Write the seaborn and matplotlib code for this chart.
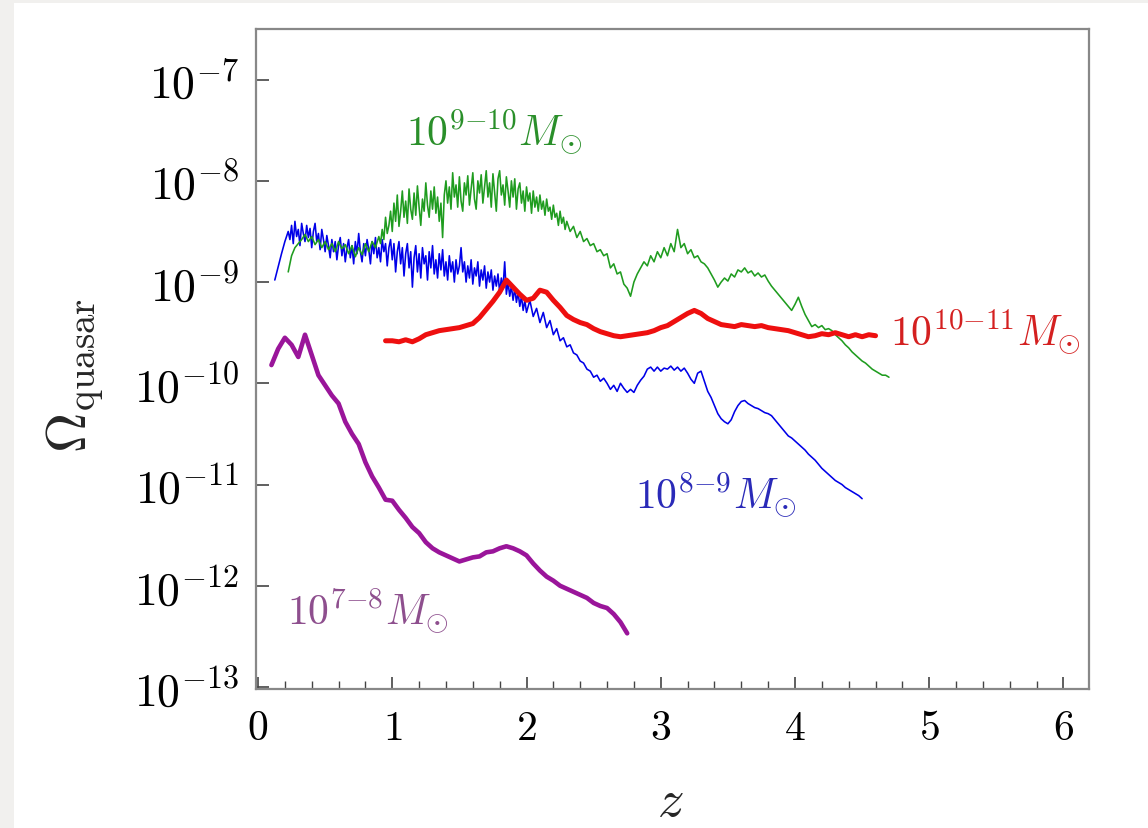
import matplotlib
matplotlib.use('Agg')

import matplotlib.pyplot as plt
import matplotlib.ticker as mticker
from matplotlib.patches import Rectangle
import numpy as np
import seaborn as sns

sns.set_style("white")
plt.rcParams['mathtext.fontset'] = 'cm'
plt.rcParams['font.family'] = ['DejaVu Serif', 'DejaVu Sans']

# log10(Omega_quasar); each piece is (z start, z step, values)
green_a = (0.225, 0.025, [
    -8.90, -8.74, -8.66, -8.62, -8.58, -8.53, -8.60, -8.55, -8.63, -8.58,
    -8.66, -8.60, -8.68, -8.62, -8.70, -8.60, -8.67, -8.63, -8.72, -8.64,
    -8.75, -8.66, -8.73, -8.62, -8.70, -8.60, -8.66,
])
green_b = (0.9, 0.0125, [
    -8.55, -8.62, -8.48, -8.58, -8.36, -8.52, -8.44, -8.30, -8.50, -8.22,
    -8.40, -8.14, -8.45, -8.30, -8.10, -8.36, -8.20, -8.42, -8.08, -8.28,
    -8.38, -8.12, -8.34, -8.05, -8.26, -8.44, -8.18, -8.30, -8.02, -8.24,
    -8.36, -8.10, -8.28, -8.06, -8.32, -8.16, -8.40, -8.22, -8.56, -8.14,
    -8.00, -8.22, -8.06, -8.28, -7.92, -8.16, -8.04, -8.26, -7.96, -8.20,
    -8.30, -8.02, -8.14, -7.95, -8.24, -8.08, -7.92, -8.18, -8.28, -8.00,
    -8.12, -7.94, -8.22, -8.06, -7.90, -8.16, -8.02, -8.26, -7.93, -8.12,
    -8.30, -7.98, -7.90, -8.14, -8.04, -8.24, -7.96, -8.10, -8.26, -8.00,
    -8.16, -7.98, -8.28, -8.08, -8.02, -8.22, -8.10, -8.30, -8.06, -8.20,
    -8.12, -8.32, -8.10, -8.26, -8.16, -8.30, -8.14, -8.28, -8.20, -8.34,
    -8.18, -8.30, -8.26, -8.38, -8.24, -8.36, -8.32, -8.44, -8.30, -8.42,
    -8.36, -8.48, -8.40,
])
green_c = (2.325, 0.025, [
    -8.50, -8.45, -8.56, -8.50, -8.60, -8.57, -8.64, -8.62, -8.70, -8.68,
    -8.74, -8.72, -8.86, -8.82, -8.92, -8.90,
    -9.02, -9.06, -9.14, -9.00, -8.92, -8.86, -8.80, -8.84, -8.74, -8.80,
    -8.70, -8.76, -8.66, -8.74, -8.62, -8.70, -8.48, -8.66, -8.62, -8.72,
    -8.68, -8.76, -8.74, -8.80, -8.82, -8.86, -8.92, -8.98, -9.05, -9.00,
    -8.96, -8.99, -8.92, -8.95, -8.88, -8.90, -8.86, -8.91, -8.89, -8.94,
    -8.91, -8.95, -8.93, -8.99, -9.04, -9.08, -9.12, -9.16, -9.20, -9.24,
    -9.28, -9.22, -9.15, -9.24, -9.32, -9.38, -9.44, -9.42, -9.45, -9.43,
    -9.47, -9.46, -9.48, -9.52, -9.55, -9.58, -9.62, -9.65, -9.69, -9.72,
    -9.75, -9.78, -9.80, -9.83, -9.86, -9.88, -9.90, -9.92, -9.92, -9.94,
])

blue_a = (0.125, 0.025, [-8.98, -8.85, -8.72, -8.60])
blue_b = (0.225, 0.0125, [
    -8.50, -8.58, -8.44, -8.62, -8.40, -8.55, -8.48, -8.64, -8.42, -8.52,
    -8.60, -8.44, -8.56, -8.47, -8.66, -8.50, -8.42, -8.60, -8.52, -8.68,
    -8.48, -8.58, -8.70, -8.54, -8.64, -8.76, -8.58, -8.70, -8.60, -8.78,
    -8.64, -8.56, -8.74, -8.62, -8.80, -8.66, -8.58, -8.76, -8.64, -8.82,
    -8.60, -8.72, -8.52, -8.70, -8.80, -8.62, -8.74, -8.58, -8.68, -8.82,
    -8.60, -8.72, -8.56, -8.76, -8.66, -8.80, -8.58, -8.70, -8.62, -8.84,
    -8.66, -8.58, -8.78, -8.62, -8.90, -8.70, -8.60, -8.82, -8.66, -8.94,
    -8.72, -8.62, -8.86, -8.70, -9.05, -8.76, -8.64, -8.90, -8.72, -8.96,
    -8.66, -8.82, -8.74, -8.98, -8.70, -8.86, -8.64, -8.92, -8.78, -8.96,
    -8.72, -8.88, -8.68, -8.94, -8.80, -8.98, -8.74, -8.90, -8.80, -9.00,
    -8.78, -8.92, -8.84, -8.66, -8.90, -8.80, -9.00, -8.84, -8.96, -8.78,
    -9.02, -8.86, -8.94, -8.80, -9.04, -8.88, -8.98, -8.84, -9.06, -8.90,
    -9.00, -8.88, -9.08, -8.94, -9.04, -8.92, -9.10, -8.96, -9.06, -8.80,
    -9.12, -9.00, -9.14, -9.04, -9.18, -9.06, -9.20, -9.10, -9.24, -9.14,
    -9.28, -9.18, -9.30,
])
blue_c = (2.025, 0.025, [
    -9.18, -9.34, -9.26, -9.40,
    -9.30, -9.45, -9.38, -9.52, -9.46, -9.58, -9.55, -9.64, -9.62, -9.70,
    -9.72, -9.78, -9.80, -9.86, -9.88, -9.94, -9.92, -9.98, -9.95, -10.00,
    -10.06, -10.02, -10.08, -10.00, -10.05, -10.09, -10.06, -10.09, -10.02, -9.97,
    -9.93, -9.86, -9.84, -9.88, -9.84, -9.88, -9.85, -9.86, -9.83, -9.87,
    -9.84, -9.88, -9.85, -9.90, -9.96, -10.00, -9.90, -9.88, -9.98, -10.08,
    -10.14, -10.22, -10.30, -10.35, -10.38, -10.40, -10.36, -10.28, -10.22, -10.18,
    -10.17, -10.20, -10.22, -10.24, -10.25, -10.27, -10.29, -10.30, -10.32, -10.36,
    -10.40, -10.44, -10.48, -10.52, -10.54, -10.57, -10.60, -10.63, -10.66, -10.70,
    -10.73, -10.76, -10.80, -10.84, -10.87, -10.90, -10.93, -10.96, -10.98, -11.00,
    -11.03, -11.05, -11.07, -11.09, -11.11, -11.14,
])

red_a = (0.95, 0.05, [
    -9.58, -9.58, -9.59, -9.57, -9.59, -9.56, -9.52, -9.50, -9.48, -9.47,
    -9.46, -9.45, -9.43, -9.41, -9.35, -9.27, -9.19, -9.10, -8.98, -9.05,
    -9.12, -9.18, -9.16, -9.08, -9.10, -9.18, -9.25, -9.33, -9.37, -9.40,
    -9.42, -9.46, -9.49, -9.51, -9.53, -9.54, -9.53, -9.52, -9.51, -9.50,
    -9.48, -9.45, -9.43, -9.39, -9.35, -9.31, -9.28, -9.31, -9.36, -9.39,
    -9.42, -9.43, -9.44, -9.42, -9.43, -9.44, -9.43, -9.45, -9.46, -9.47,
    -9.48, -9.50, -9.52, -9.54, -9.53, -9.51, -9.52, -9.50, -9.52, -9.54,
    -9.52, -9.54, -9.52, -9.53,
])

purple_a = (0.10, 0.05, [
    -9.82, -9.66, -9.55, -9.62, -9.74, -9.52, -9.72, -9.92, -10.02, -10.12,
    -10.20, -10.38, -10.50, -10.60, -10.78, -10.92, -11.03, -11.15, -11.16, -11.25,
    -11.33, -11.42, -11.48, -11.57, -11.63, -11.67, -11.70, -11.73, -11.76, -11.74,
    -11.72, -11.71, -11.67, -11.66, -11.63, -11.61, -11.63, -11.66, -11.70, -11.78,
    -11.85, -11.91, -11.95, -12.00, -12.03, -12.06, -12.09, -12.12, -12.17, -12.20,
    -12.22, -12.28, -12.36, -12.47,
])

labels = [r'$10^{8{-}9}M_{\odot}$', r'$10^{9{-}10}M_{\odot}$',
          r'$10^{10{-}11}M_{\odot}$', r'$10^{7{-}8}M_{\odot}$']
label_pos = [(2.81, -11.22), (1.10, -7.64), (4.71, -9.61), (0.215, -12.37)]

series = [
    ([blue_a, blue_b, blue_c], '#0000e8', 1.15, '#2a2ab8'),
    ([green_a, green_b, green_c], '#1f9c1f', 1.15, '#2a8f2a'),
    ([red_a], '#ee0f0f', 3.6, '#d42020'),
    ([purple_a], '#9a159a', 3.3, '#8e4f8e'),
]

fig = plt.figure(figsize=(11.48, 8.29), dpi=100)
fig.patch.set_facecolor('#f1f0ee')
fig.add_artist(Rectangle((14 / 1148, 0), 1, 1 - 4 / 829, transform=fig.transFigure,
                         facecolor='white', edgecolor='none', zorder=-10))

ax = fig.add_axes([256 / 1148, 1 - 690 / 829, (1089 - 256) / 1148, (690 - 30) / 829])
ax.set_zorder(1)

for pieces, col, lw, tcol in series:
    z = np.concatenate([z0 + dz * np.arange(len(v)) for z0, dz, v in pieces])
    logv = np.concatenate([np.array(v) for _, _, v in pieces])
    sns.lineplot(x=z, y=10.0 ** logv, ax=ax, color=col, linewidth=lw,
                 estimator=None, sort=False)

for (pieces, col, lw, tcol), lab, (tx, ty) in zip(series, labels, label_pos):
    ax.text(tx, 10.0 ** ty, lab, color=tcol, fontsize=30, ha='left', va='baseline')

ax.set_yscale('log')
ax.set_xlim(-0.015, 6.19)
ax.set_ylim(10 ** -13.02, 10 ** -6.5)

ax.yaxis.set_major_locator(mticker.FixedLocator([10.0 ** e for e in range(-13, -6)]))
ax.yaxis.set_major_formatter(mticker.FuncFormatter(
    lambda v, p: r'$10^{%d}$' % int(round(np.log10(v)))))
ax.yaxis.set_minor_locator(mticker.NullLocator())
ax.xaxis.set_major_locator(mticker.MultipleLocator(1))
ax.xaxis.set_minor_locator(mticker.MultipleLocator(0.2))
ax.xaxis.set_major_formatter(mticker.FuncFormatter(lambda v, p: r'$%d$' % int(round(v))))

ax.tick_params(axis='both', which='both', direction='in', colors='#444444',
               top=False, right=False, bottom=True, left=True)
ax.tick_params(axis='both', which='major', length=9, width=1.2)
ax.tick_params(axis='x', which='minor', length=6, width=1.0)
ax.tick_params(axis='y', labelsize=33, pad=12, labelcolor='black')
ax.tick_params(axis='x', labelsize=30, pad=12, labelcolor='black')

for s in ax.spines.values():
    s.set_color('#888888')
    s.set_linewidth(1.6)
    s.set_visible(True)

ax.set_xlabel('')
ax.set_ylabel('')
fig.text(75 / 1148, 1 - 375 / 829, r'$\Omega_{\mathrm{quasar}}$', rotation=90,
         fontsize=40, ha='center', va='center')
fig.text(670 / 1148, 1 - 802 / 829, r'$z$', fontsize=38, ha='center', va='center')

fig.savefig('out.png', dpi=100, facecolor=fig.get_facecolor())
